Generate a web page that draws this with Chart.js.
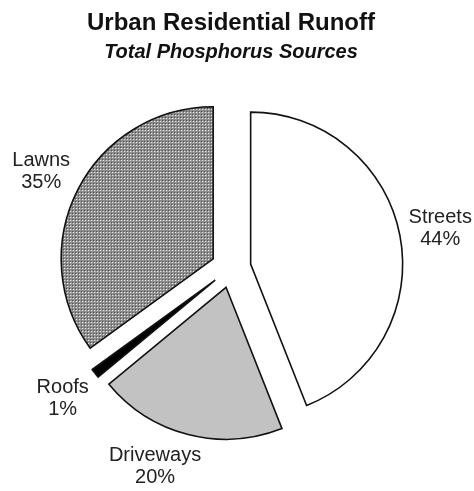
<!DOCTYPE html>
<html>
<head>
<meta charset="utf-8">
<script src="https://cdn.jsdelivr.net/npm/chart.js@4.4.1/dist/chart.umd.min.js"></script>
<style>
  body { margin: 0; background: #fff; }
  #wrap { width: 474px; height: 491px; }
</style>
</head>
<body>
<div id="wrap"><canvas id="runoffChart"></canvas></div>
<script>
const sources = ['Streets', 'Driveways', 'Roofs', 'Lawns'];
const shares = [44, 20, 1, 35];

const FONT = '"Liberation Sans", Arial, sans-serif';

// small dotted tile for the lawns slice
function stipple() {
  const tile = document.createElement('canvas');
  tile.width = 3;
  tile.height = 3;
  const t = tile.getContext('2d');
  t.fillStyle = '#8e8e8e';
  t.fillRect(0, 0, 3, 3);
  t.fillStyle = '#ffffff';
  t.fillRect(1, 1, 1, 1);
  t.fillStyle = '#444444';
  t.fillRect(0, 0, 1, 1);
  return t.createPattern(tile, 'repeat');
}

// An exploded v4 arc is drawn with its radius grown by offset * (1 - sin(angle))
// and its arc length trimmed by that amount / PI. Undo both so every slice
// keeps the same radius and its real share of the circle.
const trueArcs = {
  id: 'trueArcs',
  afterDatasetsUpdate(chart) {
    const meta = chart.getDatasetMeta(0);
    const R = meta.controller.outerRadius;
    meta.data.forEach(arc => {
      const shift = (arc.options.offset || 0) / 4;
      const grow = shift * (1 - Math.sin(Math.min(Math.PI, arc.circumference)));
      const pad = grow / Math.PI / R / 2;
      arc.outerRadius = R - grow;
      arc.startAngle -= pad;
      arc.endAngle += pad;
    });
  }
};

// name + percent outside each slice, along its middle angle
const sliceLabels = {
  id: 'sliceLabels',
  afterDatasetsDraw(chart, args, opts) {
    const ctx = chart.ctx;
    const meta = chart.getDatasetMeta(0);
    const R = meta.controller.outerRadius;
    ctx.save();
    ctx.font = opts.size + 'px ' + FONT;
    ctx.fillStyle = opts.color;
    ctx.textAlign = 'center';
    ctx.textBaseline = 'middle';
    meta.data.forEach((arc, i) => {
      const mid = (arc.startAngle + arc.endAngle) / 2;
      const r = R + opts.gap;
      const nudge = opts.nudge[sources[i]] || [0, 0];
      const x = arc.x + Math.cos(mid) * r + nudge[0];
      const y = arc.y + Math.sin(mid) * r + nudge[1];
      const lines = [sources[i], shares[i] + '%'];
      lines.forEach((txt, k) => {
        ctx.fillText(txt, x, y + (k - (lines.length - 1) / 2) * opts.lineHeight);
      });
    });
    ctx.restore();
  }
};

new Chart(document.getElementById('runoffChart'), {
  type: 'pie',
  data: {
    labels: sources,
    datasets: [{
      data: shares,
      backgroundColor: ['#ffffff', '#c2c2c2', '#000000', stipple()],
      borderColor: '#111',
      borderWidth: 1.6,
      borderJoinStyle: 'miter',
      // arcs move out by offset / 4, so this explodes each slice by ~20px
      offset: 80,
      hoverOffset: 0
    }]
  },
  options: {
    responsive: true,
    maintainAspectRatio: false,
    animation: false,
    events: [],
    radius: 152,
    layout: { padding: { right: 12, bottom: 20 } },
    plugins: {
      legend: { display: false },
      tooltip: { enabled: false },
      title: {
        display: true,
        text: 'Urban Residential Runoff',
        color: '#111',
        font: { family: FONT, size: 24, weight: 'bold' },
        padding: { top: 9, bottom: 0 }
      },
      subtitle: {
        display: true,
        text: 'Total Phosphorus Sources',
        color: '#111',
        font: { family: FONT, size: 20, weight: 'bold', style: 'italic' },
        padding: { top: 3, bottom: 0 }
      },
      sliceLabels: {
        size: 20,
        color: '#222',
        gap: 61,
        lineHeight: 22,
        nudge: { Driveways: [-23, -8] }
      }
    }
  },
  plugins: [trueArcs, sliceLabels]
});
</script>
</body>
</html>
